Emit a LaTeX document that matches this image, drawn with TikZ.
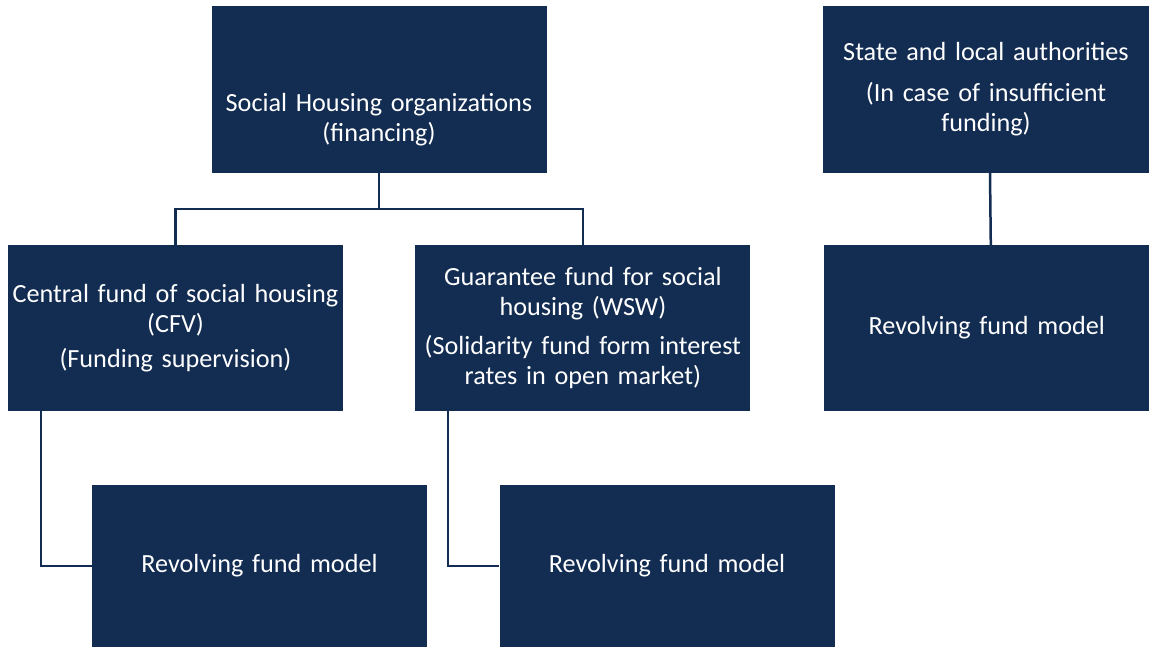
\documentclass[tikz,border=0pt]{standalone}
\usepackage{fontspec}
\setmainfont{Carlito}
\usetikzlibrary{positioning}
\definecolor{navy}{RGB}{19,44,82}

\begin{document}
\begin{tikzpicture}[x=1pt,y=-1pt,node distance=74pt and 72pt,
  box/.style={fill=navy,text=white,minimum width=335pt,minimum height=166pt,inner sep=0pt,
    text width=334pt,align=center,font=\fontsize{26.2}{30}\selectfont},
  link/.style={draw=navy,line width=2.5pt}]
\useasboundingbox (0,0) rectangle (1149,647);
\node[box,minimum height=167pt] (social) at (379,89.5) {{}\\[48pt]Social Housing organizations\\(financing)};
\node[box,minimum width=326pt,text width=320pt,minimum height=167pt] (state) at (986,89.5) {State and local authorities\\[11pt](In case of insufficient\\funding)};
\node[box] (cfv) at (175.5,328) {Central fund of social housing\\(CFV)\\[5pt](Funding supervision)};
\node[box] (wsw) [right=of cfv] {Guarantee fund for social\\housing (WSW)\\[9pt](Solidarity fund form interest\\rates in open market)};
\node[box,minimum width=326pt,text width=320pt] (staterev) [right=73pt of wsw] {Revolving fund model};
\node[box,minimum height=162pt] (cfvrev) at (259.5,566) {Revolving fund model};
\node[box,minimum height=162pt] (wswrev) at (667,566) {Revolving fund model};
% tree links
\draw[link] (social.south) -- ++(0,36) coordinate (fork);
\draw[link] (fork) -| (cfv.north);
\draw[link] (fork) -| (wsw.north);
\draw[link] ([xshift=4pt]state.south) -- ([xshift=4pt]staterev.north);
\draw[link] ([xshift=33pt]cfv.south west) |- (cfvrev.west);
\draw[link] ([xshift=33pt]wsw.south west) |- (wswrev.west);
\end{tikzpicture}
\end{document}
